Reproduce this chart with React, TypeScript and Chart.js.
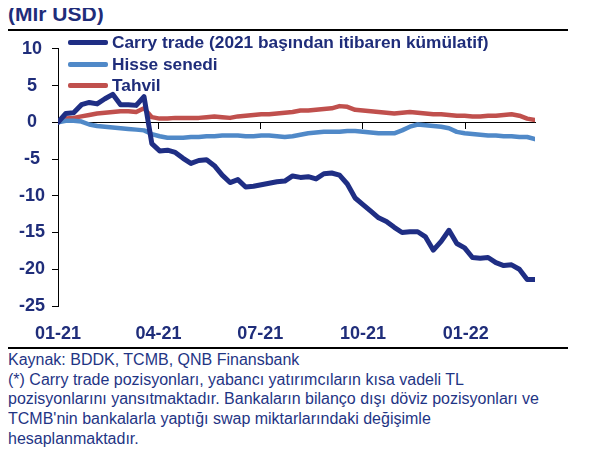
import React, { useEffect, useRef } from 'react';
import { Chart, registerables } from 'chart.js';

Chart.register(...registerables);

// Weekly observations from the first week of 2021 (x = week number)
const carryTrade = [0, 1.2, 1.3, 2.4, 2.7, 2.5, 3.2, 3.8, 2.4, 2.4, 2.3, 3.5,
  -2.9, -3.9, -3.8, -4.1, -4.9, -5.6, -5.2, -5.1, -5.9, -7.2,
  -8.2, -7.8, -8.8, -8.7, -8.5, -8.3, -8.1, -8.0, -7.3, -7.5,
  -7.4, -7.7, -7.0, -6.9, -7.2, -8.4, -10.3, -11.2, -12.1, -13.0,
  -13.5, -14.3, -15.0, -14.9, -14.9, -15.6, -17.4, -16.2, -14.7, -16.5,
  -17.1, -18.4, -18.5, -18.4, -19.1, -19.5, -19.4, -20.0, -21.4, -21.4];

const hisseSenedi = [0, 0.2, 0.2, 0.1, -0.3, -0.5, -0.6, -0.7, -0.8, -0.9, -1.0, -1.1,
  -1.6, -1.9, -2.1, -2.1, -2.1, -2.0, -2.0, -1.9, -1.9, -1.8,
  -1.8, -1.8, -1.9, -1.9, -1.8, -1.8, -1.9, -2.0, -1.9, -1.7,
  -1.5, -1.4, -1.3, -1.3, -1.3, -1.2, -1.2, -1.3, -1.4, -1.5,
  -1.5, -1.5, -1.1, -0.6, -0.3, -0.4, -0.5, -0.6, -0.8, -1.3,
  -1.5, -1.6, -1.7, -1.8, -1.8, -1.9, -1.9, -2.0, -2.0, -2.3];

const tahvil = [0, 0.5, 0.6, 0.8, 1.0, 1.2, 1.3, 1.4, 1.5, 1.5, 1.4, 1.9,
  0.7, 0.5, 0.5, 0.6, 0.6, 0.6, 0.6, 0.7, 0.8, 0.7,
  0.6, 0.8, 0.9, 1.0, 1.1, 1.1, 1.2, 1.3, 1.4, 1.6,
  1.6, 1.7, 1.8, 1.9, 2.2, 2.1, 1.7, 1.6, 1.5, 1.4,
  1.3, 1.2, 1.3, 1.4, 1.3, 1.2, 1.1, 1.1, 1.0, 0.9,
  0.9, 0.8, 0.8, 0.9, 0.9, 1.0, 1.1, 0.9, 0.5, 0.3];

const seriesNames = ['Carry trade (2021 başından itibaren kümülatif)', 'Hisse senedi', 'Tahvil'];
const seriesColors = ['#1F2E84', '#5089C8', '#C0504D'];

// Quarter starts, in weeks from 01-01-2021
const quarterTickWeeks = [0, 12.86, 25.86, 39, 52.14];
const quarterTickLabels = ['01-21', '04-21', '07-21', '10-21', '01-22'];

const yMin = -25;
const yMax = 10;
const yStep = 5;
const lastWeek = 61;

const NAVY = '#1F2D7A';
const FONT = "'Liberation Sans', Arial, Helvetica, sans-serif";

export default function App() {
  const canvasRef = useRef<HTMLCanvasElement>(null);

  useEffect(() => {
    const toPts = (arr: number[]) => arr.map((v, i) => ({ x: i, y: v }));
    const setQuarterTicks = (axis: any) => {
      axis.ticks = quarterTickWeeks.map((v) => ({ value: v }));
    };
    const series = [carryTrade, hisseSenedi, tahvil];
    const chart = new Chart(canvasRef.current as HTMLCanvasElement, {
      type: 'line',
      data: {
        datasets: series.map((s, k) => ({
          label: seriesNames[k],
          data: toPts(s),
          borderColor: seriesColors[k],
          backgroundColor: seriesColors[k],
          borderWidth: k === 0 ? 5 : 4.5,
          pointRadius: 0,
          tension: 0,
          borderJoinStyle: 'round',
          borderCapStyle: 'round',
          xAxisID: 'x',
          yAxisID: 'y',
        })) as any,
      },
      options: {
        responsive: false,
        animation: false,
        devicePixelRatio: 1,
        layout: { padding: { top: 16, right: 33, bottom: 0, left: 0 } },
        plugins: { legend: { display: false }, tooltip: { enabled: false } },
        scales: {
          x: {
            type: 'linear',
            position: { y: 0 } as any,
            min: 0,
            max: lastWeek,
            afterBuildTicks: setQuarterTicks,
            ticks: { display: false },
            grid: { drawOnChartArea: false, drawTicks: true, tickLength: 6, color: '#000' },
            border: { display: true, color: '#000', width: 1 },
          },
          xLabels: {
            type: 'linear',
            position: 'bottom',
            min: 0,
            max: lastWeek,
            afterBuildTicks: setQuarterTicks,
            ticks: {
              callback: (_v: any, i: number) => quarterTickLabels[i],
              font: { family: FONT, size: 18, weight: 'bold' },
              color: NAVY,
              padding: 9,
              maxRotation: 0,
              autoSkip: false,
            },
            grid: { display: false },
            border: { display: false },
            afterFit: (a: any) => { a.height = 41; },
          },
          y: {
            type: 'linear',
            min: yMin,
            max: yMax,
            ticks: {
              stepSize: yStep,
              crossAlign: 'center',
              padding: 7,
              font: { family: FONT, size: 18, weight: 'bold' },
              color: NAVY,
            },
            grid: { drawOnChartArea: false, tickLength: 6, color: '#000' },
            border: { color: '#000', width: 1 },
            afterFit: (a: any) => { a.width = 50; },
          },
        },
      } as any,
    });
    return () => chart.destroy();
  }, []);

  return (
    <div style={{ width: 560, fontFamily: FONT, color: NAVY }}>
      <div
        style={{
          marginTop: -6,
          fontSize: 21,
          fontWeight: 'bold',
          lineHeight: '24px',
          paddingBottom: 3,
          borderBottom: '2px solid #000',
        }}
      >
        (Mlr USD)
      </div>
      <div style={{ position: 'relative', width: 560, height: 316 }}>
        <canvas ref={canvasRef} width={560} height={316} style={{ display: 'block' }} />
        <div style={{ position: 'absolute', left: 60, top: 1 }}>
          {seriesNames.map((n, k) => (
            <div key={n} style={{ display: 'flex', alignItems: 'center', height: 21.5 }}>
              <div style={{ width: 40, height: 5, background: seriesColors[k], marginRight: 4, borderRadius: 2 }} />
              <span style={{ fontSize: 17.3, fontWeight: 'bold', color: NAVY, whiteSpace: 'nowrap' }}>{n}</span>
            </div>
          ))}
        </div>
      </div>
      <div style={{ borderTop: '2px solid #000', paddingTop: 1, fontSize: 16, lineHeight: '19.7px', color: '#1F3585' }}>
        Kaynak: BDDK, TCMB, QNB Finansbank<br />
        (*) Carry trade pozisyonları, yabancı yatırımcıların kısa vadeli TL<br />
        pozisyonlarını yansıtmaktadır. Bankaların bilanço dışı döviz pozisyonları ve<br />
        TCMB'nin bankalarla yaptığı swap miktarlarındaki değişimle<br />
        hesaplanmaktadır.
      </div>
    </div>
  );
}
